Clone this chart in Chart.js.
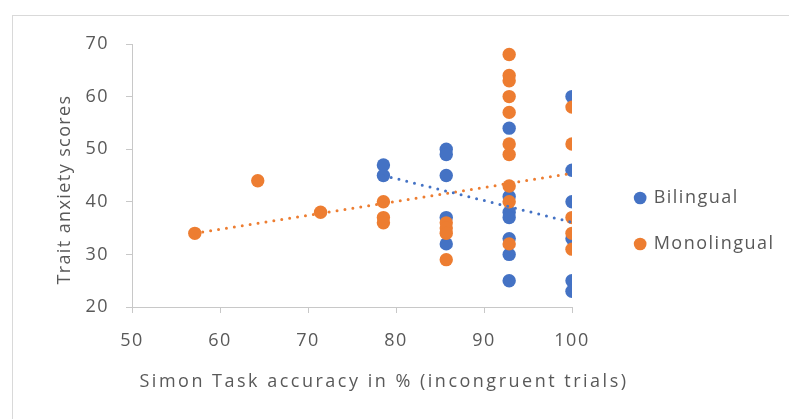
<!DOCTYPE html>
<html><head><meta charset="utf-8">
<script src="https://cdn.jsdelivr.net/npm/chart.js@4"></script>
<style>
html,body{margin:0;padding:0;background:#fff;overflow:hidden;}
#wrap{position:relative;width:789px;height:419px;overflow:hidden;}
#frame{position:absolute;left:12px;top:15px;width:900px;height:700px;border:1px solid #d9d9d9;box-sizing:border-box;}
canvas{position:absolute;left:0;top:0;}
</style></head><body>
<div id="wrap"><div id="frame"></div><canvas id="c" width="789" height="419"></canvas></div>
<script>
// ---- data ----
const seriesNames = ['Bilingual', 'Monolingual'];
const xTicks = [50, 60, 70, 80, 90, 100];
const yTicks = [20, 30, 40, 50, 60, 70];
const bilingualX = [78.57, 78.57, 85.71, 85.71, 85.71, 85.71, 85.71, 92.86, 92.86, 92.86, 92.86, 92.86, 92.86, 92.86, 100, 100, 100, 100, 100, 100];
const bilingualY = [47, 45, 50, 49, 45, 37, 32, 54, 41, 38, 37, 33, 30, 25, 60, 46, 40, 33, 25, 23];
const monolingualX = [57.14, 64.29, 71.43, 78.57, 78.57, 78.57, 85.71, 85.71, 85.71, 85.71, 92.86, 92.86, 92.86, 92.86, 92.86, 92.86, 92.86, 92.86, 92.86, 92.86, 100, 100, 100, 100, 100];
const monolingualY = [34, 44, 38, 40, 37, 36, 36, 35, 34, 29, 68, 64, 63, 60, 57, 51, 49, 43, 40, 32, 58, 51, 37, 34, 31];
const bilingualTrendX = [78.57, 100];
const bilingualTrendY = [45.0, 36.1];
const monolingualTrendX = [57.14, 100];
const monolingualTrendY = [34.0, 45.4];
const xTitle = 'Simon Task accuracy in % (incongruent trials)';
const yTitle = 'Trait anxiety scores';

// ---- styles ----
const BLUE = '#4472C4', ORANGE = '#ED7D31';
const TEXT = '#595959', AXIS = '#c8c8c8';
const FAMILY = "'Open Sans', sans-serif";
const FS = 18;
const SPACING = '1.5px';
const LEG_PAD = 28, LEG_BOX = 9;
const PLOT_RIGHT = 572;
const LEGEND_LEFT = 640 - LEG_PAD - LEG_BOX / 2;
let gapWidth = LEGEND_LEFT - PLOT_RIGHT;

const pts = (xs, ys) => xs.map((x, i) => ({x, y: ys[i]}));

const spacingPlugin = {
  id: 'spacing',
  beforeUpdate(chart) { chart.ctx.letterSpacing = SPACING; },
  beforeLayout(chart) { chart.ctx.letterSpacing = SPACING; },
  afterLayout(chart) {
    // let the legend box reach the canvas edge so spaced text is not clipped
    if (chart.legend) { chart.legend.right = chart.width; chart.legend.width = chart.width - chart.legend.left; }
  },
  beforeDraw(chart) { chart.ctx.letterSpacing = SPACING; }
};
const titlesPlugin = {
  id: 'axisTitles',
  afterDraw(chart) {
    const {ctx, chartArea: a} = chart;
    ctx.save();
    ctx.fillStyle = TEXT;
    ctx.font = `${FS}px ${FAMILY}`;
    ctx.textAlign = 'center';
    ctx.textBaseline = 'middle';
    ctx.letterSpacing = '2.5px';
    ctx.fillText(xTitle, (a.left + a.right) / 2 + 32, a.bottom + 75);
    ctx.letterSpacing = '1.4px';
    ctx.translate(65, (a.top + a.bottom) / 2 + 14);
    ctx.rotate(-Math.PI / 2);
    ctx.fillText(yTitle, 0, 0);
    ctx.restore();
  }
};

const axisCommon = {
  grid: {display: true, drawOnChartArea: false, drawTicks: true, tickLength: 6, color: AXIS, lineWidth: 1},
  border: {display: true, color: AXIS, width: 1},
};

const chart = new Chart(document.getElementById('c'), {
  type: 'scatter',
  data: {
    datasets: [
      {label: seriesNames[0], data: pts(bilingualX, bilingualY), backgroundColor: BLUE, borderWidth: 0, pointRadius: 6.7, pointHoverRadius: 6.7, order: 2},
      {label: seriesNames[1], data: pts(monolingualX, monolingualY), backgroundColor: ORANGE, borderWidth: 0, pointRadius: 6.7, pointHoverRadius: 6.7, order: 1},
      {label: 'trend1', data: pts(bilingualTrendX, bilingualTrendY), type: 'line', showLine: true, borderColor: BLUE, borderWidth: 3, borderDash: [0, 8], borderCapStyle: 'round', pointRadius: 0, fill: false, order: 0},
      {label: 'trend2', data: pts(monolingualTrendX, monolingualTrendY), type: 'line', showLine: true, borderColor: ORANGE, borderWidth: 3, borderDash: [0, 8], borderCapStyle: 'round', pointRadius: 0, fill: false, order: 0}
    ]
  },
  options: {
    responsive: false,
    devicePixelRatio: 1,
    animation: false,
    layout: {padding: {left: 0, top: 44, bottom: 21, right: 20}},
    scales: {
      x: {
        type: 'linear', position: 'bottom',
        min: xTicks[0], max: xTicks[xTicks.length - 1],
        afterBuildTicks(s) { s.ticks = xTicks.map(v => ({value: v})); },
        afterFit(s) { s.height = 91; },
        ticks: {color: TEXT, font: {family: FAMILY, size: FS}, padding: 17, maxRotation: 0},
        ...axisCommon
      },
      y: {
        type: 'linear', position: 'left',
        min: yTicks[0], max: yTicks[yTicks.length - 1],
        afterBuildTicks(s) { s.ticks = yTicks.map(v => ({value: v})); },
        afterFit(s) { s.width = 132; },
        ticks: {color: TEXT, font: {family: FAMILY, size: FS}, padding: 17},
        ...axisCommon
      },
      gap: {
        type: 'linear', position: 'right', display: true,
        grid: {display: false}, border: {display: false}, ticks: {display: false},
        afterFit(s) { s.width = gapWidth; }
      }
    },
    plugins: {
      legend: {
        position: 'right', align: 'center',
        labels: {
          usePointStyle: true, pointStyle: 'circle',
          boxWidth: LEG_BOX, boxHeight: LEG_BOX, padding: LEG_PAD,
          color: TEXT, font: {family: FAMILY, size: FS},
          filter: item => item.datasetIndex < 2,
          sort: (a, b) => a.datasetIndex - b.datasetIndex
        }
      },
      tooltip: {enabled: false}
    }
  },
  plugins: [spacingPlugin, titlesPlugin]
});
// place the legend block and the plot's right edge where the reference has them
for (let k = 0; k < 3; k++) {
  chart.options.layout.padding.right += chart.legend.left - LEGEND_LEFT;
  chart.update();
  gapWidth += chart.chartArea.right - PLOT_RIGHT;
  chart.update();
}
</script>
</body></html>
